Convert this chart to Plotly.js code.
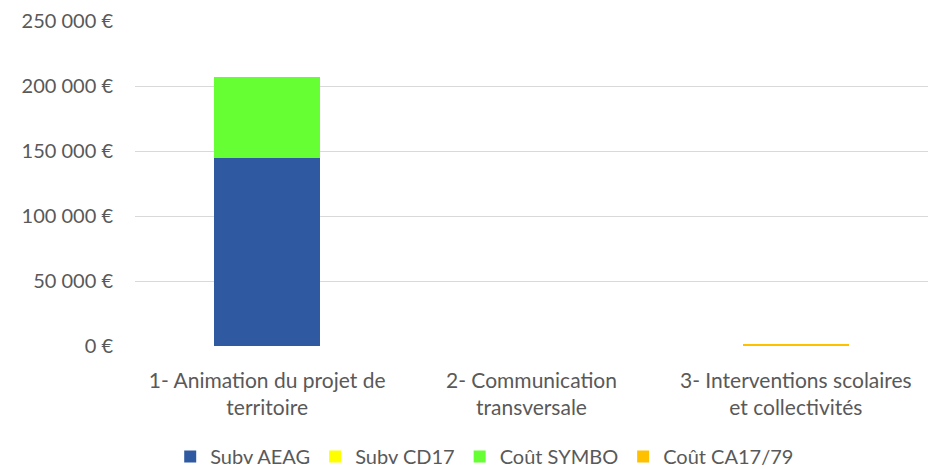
<!DOCTYPE html>
<html>
<head>
<meta charset="utf-8">
<script src="https://cdn.plot.ly/plotly-3.0.1.min.js"></script>
<style>html,body{margin:0;padding:0;background:#fff}#chart{width:928px;height:469px}</style>
</head>
<body>
<div id="chart"></div>
<script>
const categories = ["1- Animation du projet de<br>territoire", "2- Communication<br>transversale", "3- Interventions scolaires<br>et collectivités"];
const subvAEAG = [145000, 0, 0];
const subvCD17 = [0, 0, 0];
const coutSYMBO = [62000, 0, 0];
const coutCA1779 = [0, 0, 1500];
const yTickVals = [0, 50000, 100000, 150000, 200000, 250000];
const yTickText = ["0 €", "50 000 €", "100 000 €", "150 000 €", "200 000 €", "250 000 €"];

const mk = (name, y, color) => ({type: 'bar', name, x: categories, y, marker: {color}, hoverinfo: 'skip'});
const data = [
  mk('Subv AEAG', subvAEAG, '#2F5AA1'),
  mk('Subv CD17', subvCD17, '#FFFF00'),
  mk('Coût SYMBO', coutSYMBO, '#66FF33'),
  mk('Coût CA17/79', coutCA1779, '#FFC000')
];
const layout = {
  width: 928, height: 469,
  margin: {l: 135, r: 0, t: 21, b: 123, autoexpand: false},
  barmode: 'stack',
  bargap: 0.6,
  paper_bgcolor: '#fff', plot_bgcolor: '#fff',
  font: {family: 'Lato, "Open Sans", sans-serif', size: 20, color: '#595959'},
  xaxis: {automargin: false, showgrid: false, zeroline: false, showline: false, ticks: '', ticklabelstandoff: 20, tickfont: {size: 21, color: '#595959'}},
  yaxis: {automargin: false, range: [0, 250000], tickvals: yTickVals, ticktext: yTickText, showgrid: true, gridcolor: '#d9d9d9', gridwidth: 1, zeroline: false, showline: false, ticks: '', ticklen: 0, ticklabelstandoff: 21, tickfont: {size: 20, color: '#595959'}},
  showlegend: true,
  legend: {orientation: 'h', x: 0.441, xanchor: 'center', y: -0.28, yanchor: 'top', font: {size: 20, color: '#595959'}, traceorder: 'normal', itemwidth: 30}
};
Plotly.newPlot('chart', data, layout, {displayModeBar: false, staticPlot: true});
</script>
</body>
</html>
